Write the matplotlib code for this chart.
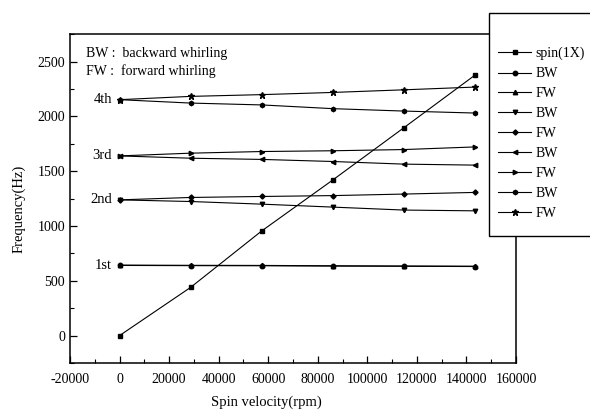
import matplotlib
matplotlib.use("Agg")
import matplotlib.pyplot as plt
from matplotlib.patches import Rectangle
from matplotlib.ticker import MultipleLocator

plt.rcParams["font.family"] = ["Liberation Serif", "DejaVu Serif"]
plt.rcParams["axes.unicode_minus"] = False

# ── Data ───────────────────────────────────────
speed_rpm = [0, 28700, 57400, 86100, 114800, 143500]

spin_1x = [0, 440, 955, 1420, 1897, 2377]

mode1_bw = [640, 638, 637, 634, 632, 630]
mode1_fw = [643, 641, 640, 637, 635, 633]
mode2_bw = [1238, 1223, 1199, 1172, 1145, 1138]
mode2_fw = [1238, 1260, 1269, 1277, 1291, 1306]
mode3_bw = [1639, 1618, 1607, 1588, 1564, 1555]
mode3_fw = [1639, 1664, 1679, 1686, 1697, 1721]
mode4_bw = [2152, 2121, 2104, 2070, 2048, 2030]
mode4_fw = [2152, 2182, 2198, 2218, 2242, 2267]

series = [
    ("spin(1X)", spin_1x, "s"),
    ("BW", mode1_bw, "o"),
    ("FW", mode1_fw, "^"),
    ("BW", mode2_bw, "v"),
    ("FW", mode2_fw, "D"),
    ("BW", mode3_bw, "<"),
    ("FW", mode3_fw, ">"),
    ("BW", mode4_bw, "h"),
    ("FW", mode4_fw, "*"),
]

mode_labels = ["1st", "2nd", "3rd", "4th"]
mode_label_y = [640, 1238, 1639, 2152]

# ── Figure ─────────────────────────────────────
fig = plt.figure(figsize=(5.9, 4.16), dpi=100)
ax = fig.add_axes([0.1186, 0.1274, 0.756, 0.7906])

handles = []
for label, vals, mk in series:
    ms = {"*": 4.5, "D": 2.6}.get(mk, 3.2)
    (h,) = ax.plot(speed_rpm, vals, color="black", lw=0.8, marker=mk,
                   markersize=ms, label=label)
    handles.append(h)

for txt, yv in zip(mode_labels, mode_label_y):
    ax.text(-3000, yv, txt, ha="right", va="center", fontsize=10.5)

ax.text(-13400, 2570, "BW :  backward whirling", ha="left", va="center",
        fontsize=10)
ax.text(-13400, 2410, "FW :  forward whirling", ha="left", va="center",
        fontsize=10)

ax.set_xlim(-20000, 160000)
ax.set_ylim(-250, 2750)
ax.xaxis.set_major_locator(MultipleLocator(20000))
ax.xaxis.set_minor_locator(MultipleLocator(10000))
ax.yaxis.set_major_locator(MultipleLocator(500))
ax.yaxis.set_minor_locator(MultipleLocator(250))
ax.tick_params(which="both", direction="in", labelsize=10)
ax.tick_params(which="major", length=5, width=0.9)
ax.tick_params(which="minor", length=3, width=0.8)
ax.tick_params(axis="x", pad=7)
for sp in ax.spines.values():
    sp.set_linewidth(1.1)

ax.set_xlabel("Spin velocity(rpm)", fontsize=10.5)
ax.set_ylabel("Frequency(Hz)", fontsize=10.5)
ax.xaxis.set_label_coords((266 - 70) / 446, -0.1)
ax.yaxis.set_label_coords(-0.1, 0.47)

# Legend box sticking out past the right edge of the figure
box = Rectangle((489 / 590, 1 - 236 / 416), 0.2, (236 - 13) / 416,
                transform=fig.transFigure, facecolor="white",
                edgecolor="black", lw=1.0, zorder=5)
fig.patches.append(box)
leg = fig.legend(handles=handles, loc="upper left",
                 bbox_to_anchor=(491 / 590, 1 - 40 / 416),
                 frameon=False, fontsize=10, handlelength=2.4,
                 handletextpad=0.3, labelspacing=0.5, borderpad=0)
leg.set_zorder(6)

fig.savefig("out.png", dpi=100)
